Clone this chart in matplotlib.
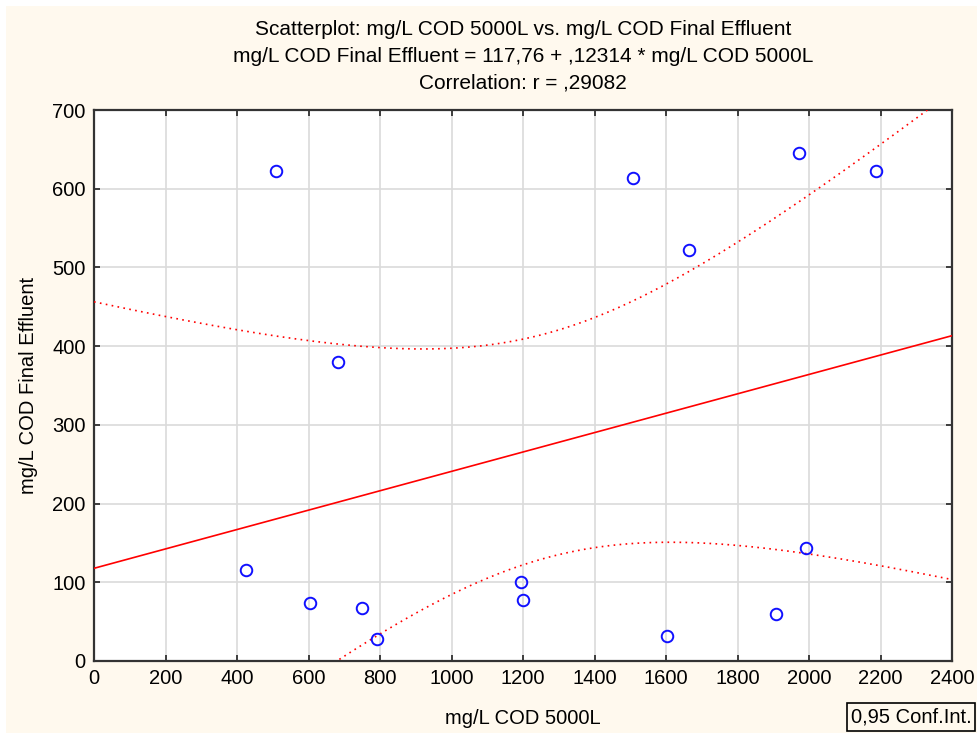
import numpy as np
import matplotlib
matplotlib.use("Agg")
import matplotlib.pyplot as plt
from matplotlib.patches import Rectangle

plt.rcParams['font.family'] = ['Liberation Sans', 'DejaVu Sans']

# mg/L COD in the 5000 L tank and in the final effluent
cod_5000l = [509, 682, 424, 604, 751, 791, 1195, 1201, 1602, 1907, 1992, 1507, 1665, 1971, 2187]
cod_final = [623, 380, 116, 74, 67, 28, 100, 78, 32, 60, 143, 613, 522, 645, 622]

intercept = 117.76
slope = 0.12314
conf_level = 0.95

x_ticks = [0, 200, 400, 600, 800, 1000, 1200, 1400, 1600, 1800, 2000, 2200, 2400]
y_ticks = [0, 100, 200, 300, 400, 500, 600, 700]

title_lines = [
    "Scatterplot: mg/L COD 5000L vs. mg/L COD Final Effluent",
    "mg/L COD Final Effluent = 117,76 + ,12314 * mg/L COD 5000L",
    "Correlation: r = ,29082",
]

x = np.array(cod_5000l, dtype=float)
y = np.array(cod_final, dtype=float)
n = len(x)

# confidence band for the regression line
resid = y - (intercept + slope * x)
s = np.sqrt(np.sum(resid ** 2) / (n - 2))
xm = x.mean()
sxx = np.sum((x - xm) ** 2)
t_crit = 2.160368652  # t(0.975, 13)
xx = np.linspace(0, 2400, 400)
yy = intercept + slope * xx
half = t_crit * s * np.sqrt(1.0 / n + (xx - xm) ** 2 / sxx)

bg = "#FFF9EE"
W, H = 977, 733
fig = plt.figure(figsize=(W / 100, H / 100), dpi=100, facecolor=bg)

# thin white margin along the top and left edges
fig.patches.append(Rectangle((0, 1 - 6 / H), 1, 6 / H, transform=fig.transFigure,
                             fc="white", ec="none", zorder=0))
fig.patches.append(Rectangle((0, 0), 6 / W, 1, transform=fig.transFigure,
                             fc="white", ec="none", zorder=0))

ax = fig.add_axes([94 / W, 1 - 661 / H, (952 - 94) / W, (661 - 110) / H])
ax.set_facecolor("white")

ax.plot(xx, yy, color="#FF0000", lw=1.2, zorder=3)
ax.plot(xx, yy + half, color="#FF0000", lw=1.2, ls=(0, (1, 2.6)), zorder=3)
ax.plot(xx, yy - half, color="#FF0000", lw=1.2, ls=(0, (1, 2.6)), zorder=3)
ax.plot(x, y, ls="none", marker="o", ms=8.3, mfc="none", mec="#1010FF", mew=1.4, zorder=4)

fs = 14.5
ax.set_xlim(0, 2400)
ax.set_ylim(0, 700)
ax.set_xticks(x_ticks)
ax.set_yticks(y_ticks)
ax.grid(True, color="#DADADA", lw=1.2)
ax.set_axisbelow(True)
ax.tick_params(direction="in", length=4, width=1.2, color="#222222",
               top=True, right=True, labelsize=fs, pad=6)
for sp in ax.spines.values():
    sp.set_color("#333333")
    sp.set_linewidth(1.6)

ax.set_xlabel("mg/L COD 5000L", fontsize=fs, labelpad=15)
ax.set_ylabel("mg/L COD Final Effluent", fontsize=fs, labelpad=10)

for i, line in enumerate(title_lines):
    fig.text(0.5 * (94 + 952) / W, 1 - (29.5 + 26.8 * i) / H, line,
             ha="center", va="center", fontsize=15)

fig.text(911 / W, 1 - 717 / H, "0,95 Conf.Int.", ha="center", va="center",
         fontsize=fs,
         bbox=dict(boxstyle="square,pad=0.2", fc=bg, ec="black", lw=1.2))

fig.savefig("out.png", dpi=100, facecolor=bg)
